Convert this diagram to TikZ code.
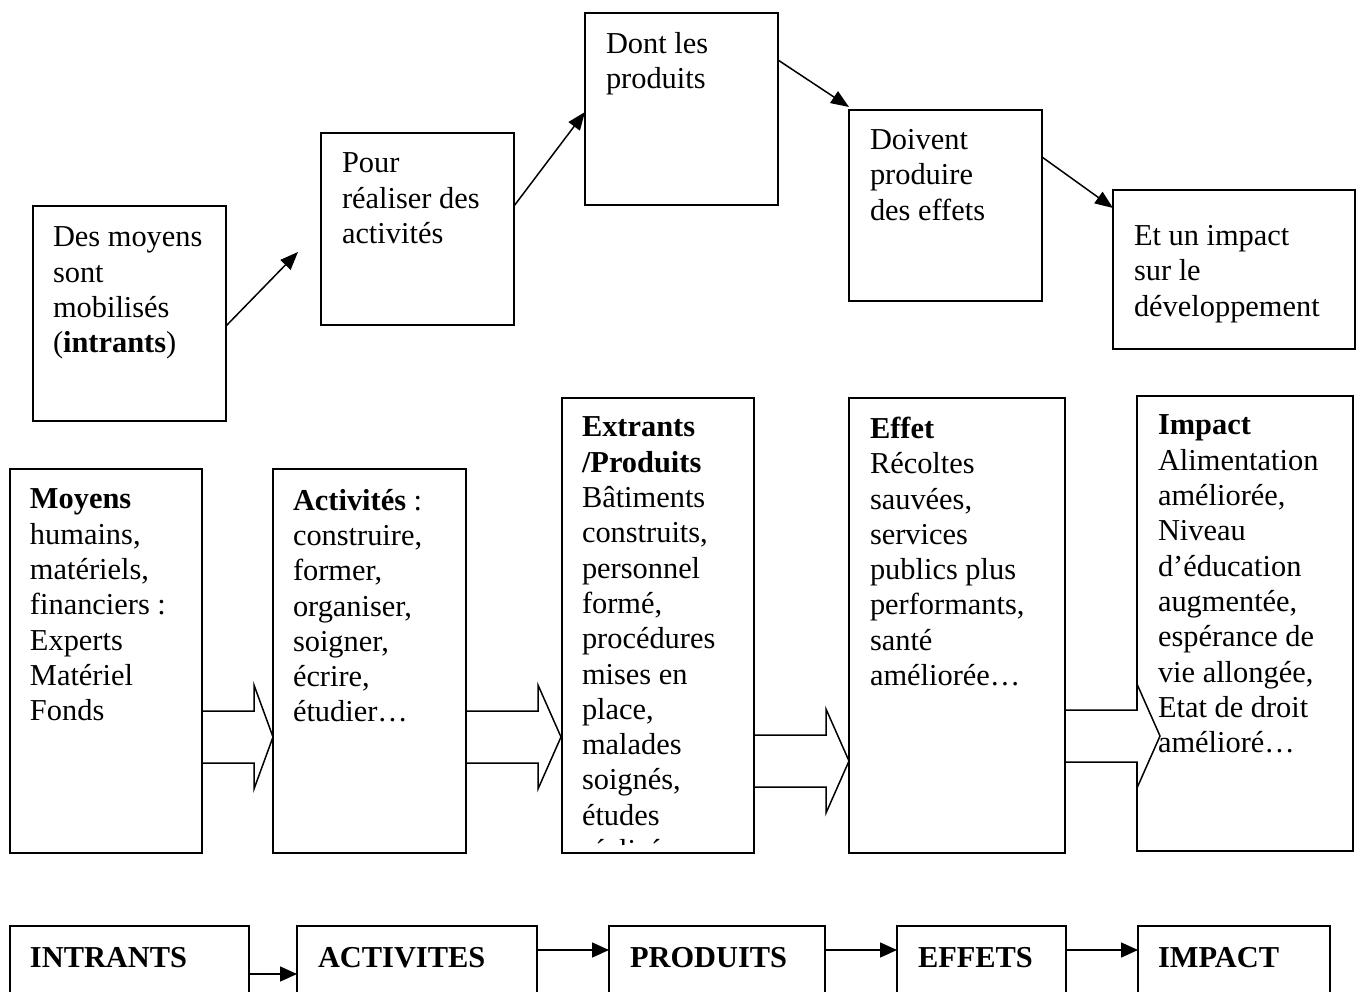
\documentclass[tikz,border=0pt]{standalone}
\usepackage{fontspec}
\setmainfont{Liberation Serif}
\usetikzlibrary{arrows.meta,calc}
\begin{document}
\begin{tikzpicture}[x=1pt,y=-1pt,
  box/.style={draw=black,line width=1.5pt,inner sep=0pt,outer sep=0pt,fill=none},
  txt/.style={anchor=north west,inner sep=0pt,outer sep=0pt,align=left,
    font=\fontsize{30.4}{35.3}\selectfont,execute at begin node=\strut},
  arr/.style={line width=1.5pt,-{Triangle[length=18pt,width=14pt]}},
  barr/.style={line width=1.5pt,-{Triangle[length=17pt,width=15pt]}},
  blk/.style={line width=1.5pt,fill=white,line join=miter}]
\useasboundingbox (0,0) rectangle (1361,992);
\clip (0,0) rectangle (1361,992);
\fill[white] (0,0) rectangle (1361,992);
% top row boxes
\node[box,minimum width=193pt,minimum height=215pt] (t1) at (129.5,313.5) {};
\node[box,minimum width=193pt,minimum height=192pt] (t2) at (417.5,229) {};
\node[box,minimum width=193pt,minimum height=192pt] (t3) at (681.5,109) {};
\node[box,minimum width=193pt,minimum height=191pt] (t4) at (945.5,205.5) {};
\node[box,minimum width=242pt,minimum height=159pt] (t5) at (1234,269.5) {};
% middle row boxes
\node[box,minimum width=192pt,minimum height=384pt] (m1) at (106,661) {};
\node[box,minimum width=193pt,minimum height=384pt] (m2) at (369.5,661) {};
\node[box,minimum width=192pt,minimum height=455pt] (m3) at (658,625.5) {};
\node[box,minimum width=216pt,minimum height=455pt] (m4) at (957,625.5) {};
\node[box,minimum width=216pt,minimum height=455pt] (m5) at (1245,623.5) {};
% bottom row boxes
\node[box,minimum width=239pt,minimum height=84pt] (b1) at (129.5,968) {};
\node[box,minimum width=240pt,minimum height=84pt] (b2) at (417,968) {};
\node[box,minimum width=216pt,minimum height=84pt] (b3) at (717,968) {};
\node[box,minimum width=169pt,minimum height=84pt] (b4) at (981.5,968) {};
\node[box,minimum width=192pt,minimum height=84pt] (b5) at (1234,968) {};
% top connectors
\coordinate (a1e) at (298,252);
\draw[arr] ($(t1.east)+(0,12.5)$) -- (a1e);
\draw[arr] ($(t2.east)+(0,-23)$) -- ($(t3.west)+(0,3)$);
\draw[arr] ($(t3.east)+(0,-49)$) -- ($(t4.north west)+(0,-3)$);
\draw[arr] ($(t4.east)+(0,-48.5)$) -- ($(t5.west)+(0,-61.5)$);
% block arrows
\newcommand\blockarr[4]{%
  \draw[blk] (#1.east |- 0,#4-26) -- (#2,#4-26) -- (#2,#4-52) -- (#3,#4)
    -- (#2,#4+52) -- (#2,#4+26) -- (#1.east |- 0,#4+26);}
\blockarr{m1}{254}{273}{737}
\blockarr{m2}{538}{561}{737}
\blockarr{m3}{826}{849}{761}
\blockarr{m4}{1137}{1160}{736}
% redraw the edges the arrow fills overlap
\foreach \n in {m1,m2,m3,m4}
  \draw[line width=1.5pt] (\n.north west) rectangle (\n.south east);
% bottom connectors
\draw[barr] (b1.east |- 0,974) -- (b2.west |- 0,974);
\draw[barr] (b2.east |- 0,950) -- (b3.west |- 0,950);
\draw[barr] (b3.east |- 0,950) -- (b4.west |- 0,950);
\draw[barr] (b4.east |- 0,950) -- (b5.west |- 0,950);
% texts
\node[txt] (t1x) at (53,227) {Des moyens\\sont\\mobilisés\\(\textbf{intrants})};
\node[txt] (t2x) at (342,153) {Pour\\réaliser des\\activités};
\node[txt] (t3x) at (606,32) {Dont les\\produits};
\node[txt] (t4x) at (870,129.5) {Doivent\\produire\\des effets};
\node[txt] (t5x) at (1134,225.5) {Et un impact\\sur le\\développement};
\node[txt] (m1x) at (30,489) {\textbf{Moyens}\\humains,\\matériels,\\financiers :\\Experts\\Matériel\\Fonds};
\node[txt] (m2x) at (293,489) {\textbf{Activités} :\\construire,\\former,\\organiser,\\soigner,\\écrire,\\étudier…};
\begin{scope}
\clip (562,398) rectangle (754,844);
\node[txt] (m3x) at (582,417) {\textbf{Extrants}\\\textbf{/Produits}\\Bâtiments\\construits,\\personnel\\formé,\\procédures\\mises en\\place,\\malades\\soignés,\\études\\réalisées};
\end{scope}
\node[txt] (m4x) at (870,417) {\textbf{Effet}\\Récoltes\\sauvées,\\services\\publics plus\\performants,\\santé\\améliorée…};
\node[txt] (m5x) at (1158,415) {\textbf{Impact}\\Alimentation\\améliorée,\\Niveau\\d’éducation\\augmentée,\\espérance de\\vie allongée,\\Etat de droit\\amélioré…};
\node[txt] (b1x) at (30,942.3) {\textbf{INTRANTS}};
\node[txt] (b2x) at (318,942.3) {\textbf{ACTIVITES}};
\node[txt] (b3x) at (630,942.3) {\textbf{PRODUITS}};
\node[txt] (b4x) at (918,942.3) {\textbf{EFFETS}};
\node[txt] (b5x) at (1158,942.3) {\textbf{IMPACT}};
\end{tikzpicture}
\end{document}
